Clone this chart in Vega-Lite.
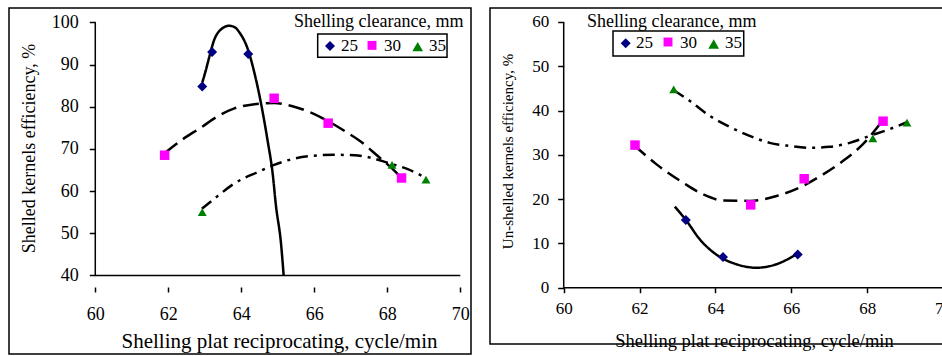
{
  "$schema": "https://vega.github.io/schema/vega-lite/v6.json",
  "background": "white",
  "padding": {"left": 8, "top": 7, "right": 0, "bottom": 0},
  "spacing": 17,
  "datasets": {
    "leftPoints": [
      {"x": 62.93, "y": 84.8, "s": "25"}, {"x": 63.2, "y": 93.0, "s": "25"}, {"x": 64.19, "y": 92.5, "s": "25"},
      {"x": 61.9, "y": 68.5, "s": "30"}, {"x": 64.9, "y": 82.0, "s": "30"}, {"x": 66.38, "y": 76.1, "s": "30"}, {"x": 68.39, "y": 63.1, "s": "30"},
      {"x": 62.93, "y": 55.0, "s": "35"}, {"x": 68.13, "y": 66.2, "s": "35"}, {"x": 69.06, "y": 62.7, "s": "35"}
    ],
    "leftCurves": [
      {"x": 62.93, "y": 85.7, "s": "25"}, {"x": 63.03, "y": 88.7, "s": "25"}, {"x": 63.12, "y": 91.7, "s": "25"}, {"x": 63.26, "y": 95.9, "s": "25"},
      {"x": 63.44, "y": 98.3, "s": "25"}, {"x": 63.67, "y": 99.2, "s": "25"}, {"x": 63.81, "y": 98.9, "s": "25"}, {"x": 63.95, "y": 97.6, "s": "25"},
      {"x": 64.18, "y": 93.6, "s": "25"}, {"x": 64.36, "y": 88.0, "s": "25"}, {"x": 64.54, "y": 80.8, "s": "25"}, {"x": 64.72, "y": 72.0, "s": "25"},
      {"x": 64.86, "y": 64.1, "s": "25"}, {"x": 64.95, "y": 56.5, "s": "25"}, {"x": 65.09, "y": 47.4, "s": "25"}, {"x": 65.16, "y": 40.0, "s": "25"},
      {"x": 61.9, "y": 69.0, "s": "30"}, {"x": 62.35, "y": 72.0, "s": "30"}, {"x": 62.9, "y": 75.1, "s": "30"}, {"x": 63.35, "y": 77.7, "s": "30"},
      {"x": 63.81, "y": 79.6, "s": "30"}, {"x": 64.36, "y": 80.6, "s": "30"}, {"x": 64.9, "y": 80.9, "s": "30"}, {"x": 65.45, "y": 80.0, "s": "30"},
      {"x": 65.91, "y": 78.6, "s": "30"}, {"x": 66.37, "y": 76.6, "s": "30"}, {"x": 66.82, "y": 74.3, "s": "30"}, {"x": 67.28, "y": 71.7, "s": "30"},
      {"x": 67.74, "y": 68.3, "s": "30"}, {"x": 68.15, "y": 65.2, "s": "30"}, {"x": 68.4, "y": 63.0, "s": "30"},
      {"x": 62.92, "y": 55.8, "s": "35"}, {"x": 63.35, "y": 58.8, "s": "35"}, {"x": 63.81, "y": 61.8, "s": "35"}, {"x": 64.45, "y": 64.5, "s": "35"},
      {"x": 64.9, "y": 66.2, "s": "35"}, {"x": 65.45, "y": 67.7, "s": "35"}, {"x": 66.0, "y": 68.4, "s": "35"}, {"x": 66.55, "y": 68.6, "s": "35"},
      {"x": 67.1, "y": 68.5, "s": "35"}, {"x": 67.55, "y": 67.9, "s": "35"}, {"x": 68.01, "y": 66.7, "s": "35"}, {"x": 68.56, "y": 65.2, "s": "35"},
      {"x": 69.02, "y": 63.3, "s": "35"}
    ],
    "rightPoints": [
      {"x": 63.22, "y": 15.3, "s": "25"}, {"x": 64.2, "y": 6.9, "s": "25"}, {"x": 66.17, "y": 7.5, "s": "25"},
      {"x": 61.88, "y": 32.2, "s": "30"}, {"x": 64.93, "y": 18.7, "s": "30"}, {"x": 66.34, "y": 24.6, "s": "30"}, {"x": 68.42, "y": 37.6, "s": "30"},
      {"x": 62.9, "y": 44.8, "s": "35"}, {"x": 68.15, "y": 33.7, "s": "35"}, {"x": 69.05, "y": 37.3, "s": "35"}
    ],
    "rightCurves": [
      {"x": 62.93, "y": 18.3, "s": "25"}, {"x": 63.22, "y": 15.3, "s": "25"}, {"x": 63.59, "y": 10.9, "s": "25"}, {"x": 64.02, "y": 7.5, "s": "25"},
      {"x": 64.55, "y": 5.3, "s": "25"}, {"x": 65.08, "y": 4.5, "s": "25"}, {"x": 65.61, "y": 5.3, "s": "25"}, {"x": 66.13, "y": 7.5, "s": "25"},
      {"x": 61.88, "y": 32.0, "s": "30"}, {"x": 62.44, "y": 27.9, "s": "30"}, {"x": 63.15, "y": 23.7, "s": "30"}, {"x": 63.67, "y": 21.1, "s": "30"},
      {"x": 64.2, "y": 19.7, "s": "30"}, {"x": 64.9, "y": 19.6, "s": "30"}, {"x": 65.61, "y": 20.7, "s": "30"}, {"x": 66.31, "y": 23.0, "s": "30"},
      {"x": 66.84, "y": 25.6, "s": "30"}, {"x": 67.36, "y": 28.6, "s": "30"}, {"x": 67.89, "y": 32.4, "s": "30"}, {"x": 68.37, "y": 37.3, "s": "30"},
      {"x": 62.9, "y": 44.6, "s": "35"}, {"x": 63.32, "y": 42.2, "s": "35"}, {"x": 63.85, "y": 38.8, "s": "35"}, {"x": 64.38, "y": 36.3, "s": "35"},
      {"x": 64.9, "y": 34.3, "s": "35"}, {"x": 65.43, "y": 32.7, "s": "35"}, {"x": 65.96, "y": 32.0, "s": "35"}, {"x": 66.49, "y": 31.6, "s": "35"},
      {"x": 67.01, "y": 31.8, "s": "35"}, {"x": 67.54, "y": 32.7, "s": "35"}, {"x": 68.07, "y": 34.3, "s": "35"}, {"x": 68.59, "y": 35.8, "s": "35"},
      {"x": 69.03, "y": 37.3, "s": "35"}
    ]
  },
  "config": {
    "view": {"stroke": "black", "strokeWidth": 1.5},
    "font": "Liberation Serif",
    "axis": {
      "grid": false, "domain": false, "ticks": true, "tickColor": "black", "tickWidth": 1.5,
      "labelColor": "black", "titleColor": "black", "labelFont": "Liberation Serif",
      "titleFont": "Liberation Serif", "titleFontWeight": "normal"
    },
    "text": {"font": "Liberation Serif", "color": "black"}
  },
  "resolve": {
    "scale": {"color": "independent", "shape": "independent", "strokeDash": "independent", "size": "independent"}
  },
  "hconcat": [
    {
      "width": 462,
      "height": 346,
      "resolve": {"axis": {"x": "independent", "y": "independent"}},
      "layer": [
        {
          "encoding": {
            "x": {"field": "x", "type": "quantitative",
              "scale": {"domain": [57.636, 70.293], "nice": false, "zero": false},
              "axis": {"orient": "bottom", "values": [60, 62, 64, 66, 68, 70], "offset": -67, "title": "Shelling plat reciprocating, cycle/min",
                "titleX": 270, "titleY": 60, "titleBaseline": "alphabetic", "titleFontSize": 21,
                "labelFontSize": 18, "ticks": true, "tickColor": "black", "tickWidth": 1.5, "tickSize": 5, "labelPadding": 13}},
            "y": {"field": "y", "type": "quantitative",
              "scale": {"domain": [21.36, 103.41], "nice": false, "zero": false},
              "axis": {"orient": "left", "values": [40, 50, 60, 70, 80, 90, 100], "offset": -86.3, "title": "Shelled kernels efficiency, %",
                "titleX": -61, "titleY": 140, "titleBaseline": "alphabetic", "titleFontSize": 18,
                "labelFontSize": 18, "ticks": true, "tickColor": "black", "tickWidth": 1.5, "tickSize": 6, "labelPadding": 11}}
          },
          "layer": [
            {
              "data": {"name": "leftCurves"},
              "mark": {"type": "line", "interpolate": "monotone", "color": "black", "strokeWidth": 2.5},
              "encoding": {
                "strokeDash": {"field": "s", "type": "nominal", "scale": {"domain": ["25", "30", "35"], "range": [[1, 0], [16, 7], [12, 6, 3, 6]]}, "legend": null}
              }
            },
            {
              "data": {"name": "leftPoints"},
              "mark": {"type": "point", "filled": true, "opacity": 1},
              "encoding": {
                "color": {"field": "s", "type": "nominal", "scale": {"domain": ["25", "30", "35"], "range": ["#000080", "#FF00FF", "#008000"]}, "legend": null},
                "shape": {"field": "s", "type": "nominal", "scale": {"domain": ["25", "30", "35"], "range": ["diamond", "square", "triangle-up"]}, "legend": null},
                "size": {"field": "s", "type": "nominal", "scale": {"domain": ["25", "30", "35"], "range": [100, 80, 115]}, "legend": null}
              }
            }
          ]
        },
        {
          "data": {"values": [{}]},
          "encoding": {
            "x": {"type": "quantitative", "scale": {"domain": [57.636, 70.293], "nice": false, "zero": false}, "axis": null},
            "y": {"type": "quantitative", "scale": {"domain": [21.36, 103.41], "nice": false, "zero": false}, "axis": null}
          },
          "layer": [
            {
              "mark": {"type": "text", "align": "left", "baseline": "alphabetic", "fontSize": 18},
              "encoding": {"x": {"datum": 65.444}, "y": {"datum": 98.86}, "text": {"value": "Shelling clearance, mm"}}
            },
            {
              "mark": {"type": "rule", "color": "black", "strokeWidth": 1.5},
              "encoding": {"x": {"datum": 60}, "y": {"datum": 40}, "y2": {"datum": 100}}
            },
            {
              "mark": {"type": "rule", "color": "black", "strokeWidth": 1.5},
              "encoding": {"x": {"datum": 60}, "x2": {"datum": 70}, "y": {"datum": 40}}
            },
            {
              "mark": {"type": "rect", "fill": "white", "stroke": "black", "strokeWidth": 1.5},
              "encoding": {"x": {"datum": 66.093}, "x2": {"datum": 69.636}, "y": {"datum": 97.27}, "y2": {"datum": 91.75}}
            },
            {
              "mark": {"type": "point", "filled": true, "opacity": 1, "shape": "diamond", "color": "#000080", "size": 100},
              "encoding": {"x": {"datum": 66.43}, "y": {"datum": 94.39}}
            },
            {
              "mark": {"type": "point", "filled": true, "opacity": 1, "shape": "square", "color": "#FF00FF", "size": 80},
              "encoding": {"x": {"datum": 67.581}, "y": {"datum": 94.55}}
            },
            {
              "mark": {"type": "point", "filled": true, "opacity": 1, "shape": "triangle-up", "color": "#008000", "size": 115},
              "encoding": {"x": {"datum": 68.833}, "y": {"datum": 94.25}}
            },
            {
              "mark": {"type": "text", "align": "left", "baseline": "alphabetic", "fontSize": 17},
              "encoding": {"x": {"datum": 66.729}, "y": {"datum": 93.11}, "text": {"value": "25"}}
            },
            {
              "mark": {"type": "text", "align": "left", "baseline": "alphabetic", "fontSize": 17},
              "encoding": {"x": {"datum": 67.907}, "y": {"datum": 93.11}, "text": {"value": "30"}}
            },
            {
              "mark": {"type": "text", "align": "left", "baseline": "alphabetic", "fontSize": 17},
              "encoding": {"x": {"datum": 69.14}, "y": {"datum": 93.11}, "text": {"value": "35"}}
            }
          ]
        }
      ]
    },
    {
      "width": 470,
      "height": 336,
      "resolve": {"axis": {"x": "independent", "y": "independent"}},
      "layer": [
        {
          "encoding": {
            "x": {"field": "x", "type": "quantitative",
              "scale": {"domain": [58.057, 70.448], "nice": false, "zero": false},
              "axis": {"orient": "bottom", "values": [60, 62, 64, 66, 68, 70], "offset": -56.3, "title": "Shelling plat reciprocating, cycle/min",
                "titleX": 264, "titleY": 58.3, "titleBaseline": "alphabetic", "titleFontSize": 18.5,
                "labelFontSize": 17, "ticks": true, "tickColor": "black", "tickWidth": 1.5, "tickSize": 5, "labelPadding": 8}},
            "y": {"field": "y", "type": "quantitative",
              "scale": {"domain": [-12.72, 63.16], "nice": false, "zero": false},
              "axis": {"orient": "left", "values": [0, 10, 20, 30, 40, 50, 60], "offset": -73.7, "title": "Un-shelled kernels efficiency, %",
                "titleX": -51, "titleY": 143, "titleBaseline": "alphabetic", "titleFontSize": 15,
                "labelFontSize": 17, "ticks": true, "tickColor": "black", "tickWidth": 1.5, "tickSize": 6, "labelPadding": 9}}
          },
          "layer": [
            {
              "data": {"name": "rightCurves"},
              "mark": {"type": "line", "interpolate": "monotone", "color": "black", "strokeWidth": 2.5},
              "encoding": {
                "strokeDash": {"field": "s", "type": "nominal", "scale": {"domain": ["25", "30", "35"], "range": [[1, 0], [14, 7], [12, 6, 3, 6]]}, "legend": null}
              }
            },
            {
              "data": {"name": "rightPoints"},
              "mark": {"type": "point", "filled": true, "opacity": 1},
              "encoding": {
                "color": {"field": "s", "type": "nominal", "scale": {"domain": ["25", "30", "35"], "range": ["#000080", "#FF00FF", "#008000"]}, "legend": null},
                "shape": {"field": "s", "type": "nominal", "scale": {"domain": ["25", "30", "35"], "range": ["diamond", "square", "triangle-up"]}, "legend": null},
                "size": {"field": "s", "type": "nominal", "scale": {"domain": ["25", "30", "35"], "range": [100, 80, 115]}, "legend": null}
              }
            }
          ]
        },
        {
          "data": {"values": [{}]},
          "encoding": {
            "x": {"type": "quantitative", "scale": {"domain": [58.057, 70.448], "nice": false, "zero": false}, "axis": null},
            "y": {"type": "quantitative", "scale": {"domain": [-12.72, 63.16], "nice": false, "zero": false}, "axis": null}
          },
          "layer": [
            {
              "mark": {"type": "text", "align": "left", "baseline": "alphabetic", "fontSize": 18},
              "encoding": {"x": {"datum": 60.614}, "y": {"datum": 58.87}, "text": {"value": "Shelling clearance, mm"}}
            },
            {
              "mark": {"type": "rule", "color": "black", "strokeWidth": 1.5},
              "encoding": {"x": {"datum": 60}, "y": {"datum": 0}, "y2": {"datum": 60}}
            },
            {
              "mark": {"type": "rule", "color": "black", "strokeWidth": 1.5},
              "encoding": {"x": {"datum": 60}, "x2": {"datum": 70}, "y": {"datum": 0}}
            },
            {
              "mark": {"type": "rect", "fill": "white", "stroke": "black", "strokeWidth": 1.5},
              "encoding": {"x": {"datum": 61.3}, "x2": {"datum": 64.746}, "y": {"datum": 57.97}, "y2": {"datum": 52.32}}
            },
            {
              "mark": {"type": "point", "filled": true, "opacity": 1, "shape": "diamond", "color": "#000080", "size": 100},
              "encoding": {"x": {"datum": 61.635}, "y": {"datum": 55.19}}
            },
            {
              "mark": {"type": "point", "filled": true, "opacity": 1, "shape": "square", "color": "#FF00FF", "size": 80},
              "encoding": {"x": {"datum": 62.75}, "y": {"datum": 55.48}}
            },
            {
              "mark": {"type": "point", "filled": true, "opacity": 1, "shape": "triangle-up", "color": "#008000", "size": 115},
              "encoding": {"x": {"datum": 63.955}, "y": {"datum": 55.03}}
            },
            {
              "mark": {"type": "text", "align": "left", "baseline": "alphabetic", "fontSize": 17},
              "encoding": {"x": {"datum": 61.906}, "y": {"datum": 54.06}, "text": {"value": "25"}}
            },
            {
              "mark": {"type": "text", "align": "left", "baseline": "alphabetic", "fontSize": 17},
              "encoding": {"x": {"datum": 63.066}, "y": {"datum": 54.06}, "text": {"value": "30"}}
            },
            {
              "mark": {"type": "text", "align": "left", "baseline": "alphabetic", "fontSize": 17},
              "encoding": {"x": {"datum": 64.252}, "y": {"datum": 54.06}, "text": {"value": "35"}}
            }
          ]
        }
      ]
    }
  ]
}
